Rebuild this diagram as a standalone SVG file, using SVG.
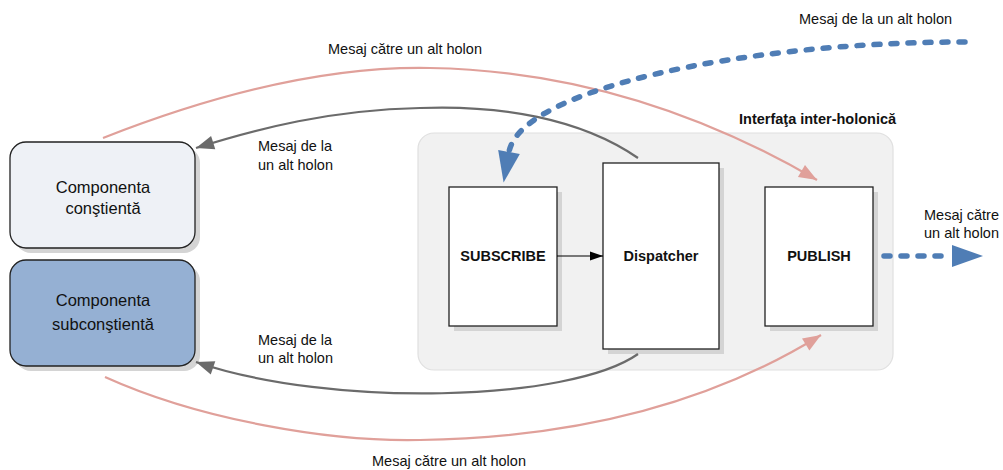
<svg xmlns="http://www.w3.org/2000/svg" width="1003" height="470" viewBox="0 0 1003 470">
<defs>
<style>
text{font-family:"Liberation Sans",Arial,sans-serif;fill:#111;}
.lbl{font-size:14.5px;}
.box{font-size:16.5px;text-anchor:middle;}
.bold{font-size:14.5px;font-weight:bold;}
.bc{font-size:14.5px;font-weight:bold;text-anchor:middle;}
.shadow{fill:#d4d4d4;}
.node{fill:#ffffff;stroke:#222;stroke-width:1.3;}
.pink{fill:none;stroke:#e0a09a;stroke-width:2.2;}
.gray{fill:none;stroke:#6b6b6b;stroke-width:2.2;}
.blue{fill:none;stroke:#4f7db5;stroke-width:5.5;stroke-linecap:round;stroke-dasharray:6 11;}
</style>
<marker id="mPink" markerUnits="userSpaceOnUse" markerWidth="20" markerHeight="16" refX="18" refY="7" orient="auto" overflow="visible">
<path d="M0,0 L18,7 L0,14 Z" fill="#e0a09a"/>
</marker>
<marker id="mGray" markerUnits="userSpaceOnUse" markerWidth="20" markerHeight="16" refX="18" refY="7" orient="auto" overflow="visible">
<path d="M0,0 L18,7 L0,14 Z" fill="#6b6b6b"/>
</marker>
<marker id="mBlue" markerUnits="userSpaceOnUse" markerWidth="34" markerHeight="24" refX="0" refY="11" orient="auto" overflow="visible">
<path d="M0,0 L31,11 L0,22 Z" fill="#4f7db5"/>
</marker>
<marker id="mBlack" markerUnits="userSpaceOnUse" markerWidth="14" markerHeight="10" refX="13" refY="4.5" orient="auto" overflow="visible">
<path d="M0,0 L13,4.5 L0,9 Z" fill="#000"/>
</marker>
</defs>

<g id="container">
<rect x="418" y="133" width="475" height="237" rx="16" fill="#f1f1f1" stroke="#e0e0e0" stroke-width="1.2"/>
<text class="bold" x="739" y="124">Interfaţa inter-holonică</text>
</g>

<g id="constienta">
<rect class="shadow" x="15" y="147" width="185" height="106" rx="16"/>
<rect x="10" y="142" width="185" height="106" rx="16" fill="#eef1f6" stroke="#222" stroke-width="1.3"/>
<text class="box" x="103" y="193">Componenta</text>
<text class="box" x="103" y="214">conştientă</text>
</g>

<g id="subconstienta">
<rect class="shadow" x="15" y="265" width="185" height="106" rx="16"/>
<rect x="10" y="260" width="185" height="106" rx="16" fill="#95b0d3" stroke="#222" stroke-width="1.3"/>
<text class="box" x="103" y="306">Componenta</text>
<text class="box" x="103" y="330">subconştientă</text>
</g>

<g id="subscribe">
<rect class="shadow" x="454" y="192" width="108" height="139"/>
<rect class="node" x="449" y="187" width="108" height="139"/>
<text class="bc" x="503" y="261">SUBSCRIBE</text>
</g>

<g id="dispatcher">
<rect class="shadow" x="608" y="168" width="116" height="186"/>
<rect class="node" x="603" y="163" width="116" height="186"/>
<text class="bc" x="661" y="261">Dispatcher</text>
</g>

<g id="publish">
<rect class="shadow" x="770" y="192" width="108" height="139"/>
<rect class="node" x="765" y="187" width="108" height="139"/>
<text class="bc" x="819" y="261">PUBLISH</text>
</g>

<g id="connectors">
<path class="pink" d="M103,138 C220,92 330,66 430,68 C550,70 680,100 817,180" marker-end="url(#mPink)"/>
<path class="gray" d="M638,158 C580,118 500,105 420,108 C330,110 260,128 196,148" marker-end="url(#mGray)"/>
<path class="gray" d="M638,354 C570,402 330,408 196,362" marker-end="url(#mGray)"/>
<path class="pink" d="M105,377 C200,420 330,442 420,440 C560,438 700,410 821,335" marker-end="url(#mPink)"/>
<path class="blue" d="M965,42 C740,42 520,90 509,152" marker-end="url(#mBlue)"/>
<path class="blue" d="M884,256 L952,256" marker-end="url(#mBlue)"/>
<path d="M557,256 L603,256" stroke="#000" stroke-width="1.2" fill="none" marker-end="url(#mBlack)"/>
</g>

<g id="labels">
<text class="lbl" x="328" y="54">Mesaj către un alt holon</text>
<text class="lbl" x="799" y="24">Mesaj de la un alt holon</text>
<text class="lbl" x="258" y="151">Mesaj de la</text>
<text class="lbl" x="258" y="170">un alt holon</text>
<text class="lbl" x="258" y="345">Mesaj de la</text>
<text class="lbl" x="258" y="363">un alt holon</text>
<text class="lbl" x="924" y="220">Mesaj către</text>
<text class="lbl" x="924" y="238">un alt holon</text>
<text class="lbl" x="372" y="466">Mesaj către un alt holon</text>
</g>
</svg>
